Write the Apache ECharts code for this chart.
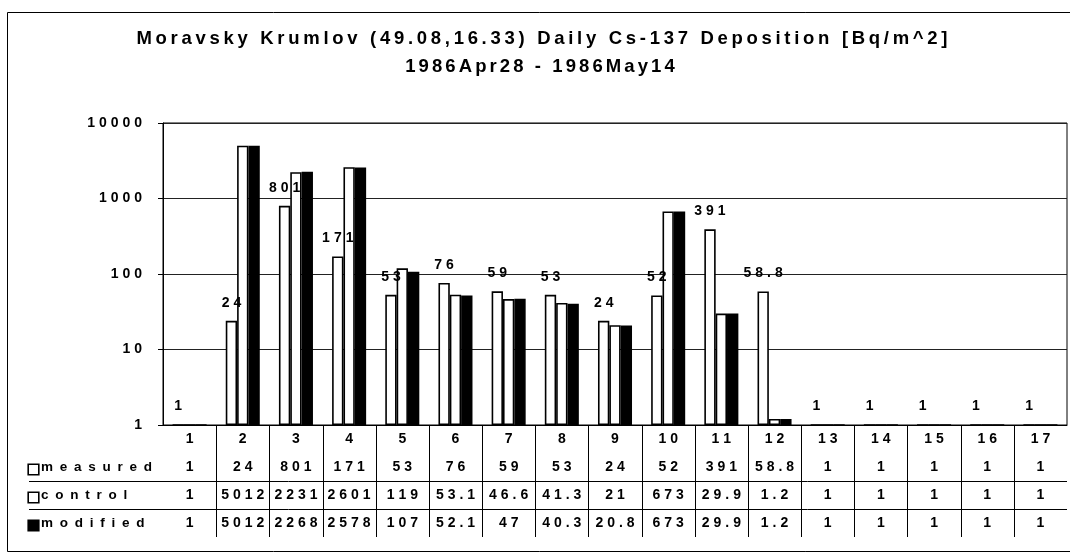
<!DOCTYPE html>
<html>
<head>
<meta charset="utf-8">
<script src="https://cdn.jsdelivr.net/npm/echarts@6/dist/echarts.min.js"></script>
<style>
  html, body { margin: 0; padding: 0; background: #fff; }
  #chart { width: 1070px; height: 554px; }
</style>
</head>
<body>
<div id="chart"></div>
<script>
// Days of the period (columns of the table)
const CATEGORIES = ['1','2','3','4','5','6','7','8','9','10','11','12','13','14','15','16','17'];

// Daily Cs-137 deposition, Bq/m^2
const MEASURED = [1, 24, 801, 171, 53, 76, 59, 53, 24, 52, 391, 58.8, 1, 1, 1, 1, 1];
const CONTROL  = [1, 5012, 2231, 2601, 119, 53.1, 46.6, 41.3, 21, 673, 29.9, 1.2, 1, 1, 1, 1, 1];
const MODIFIED = [1, 5012, 2268, 2578, 107, 52.1, 47, 40.3, 20.8, 673, 29.9, 1.2, 1, 1, 1, 1, 1];

const SERIES_NAMES = ['measured', 'control', 'modified'];
const Y_TICKS = [1, 10, 100, 1000, 10000];

const TITLE_LINE1 = 'Moravsky Krumlov (49.08,16.33) Daily Cs-137 Deposition [Bq/m^2]';
const TITLE_LINE2 = '1986Apr28 - 1986May14';

// Typography helpers: wide, letter-spaced bold face
const FONT = '"Liberation Sans", Arial, "DejaVu Sans", sans-serif';
const NUM_SEP = '\u2009\u200A';
const NAME_SEP = '\u2002';
const TITLE_SEP = '\u2009';
const SUBTITLE_SEP = '\u200A\u200A';
function spread(s, sep) { return Array.from(String(s)).join(sep); }

// Table below the plot: header row of days, then one row per series
const ROWS = ['', ...SERIES_NAMES];
const TABLE = [CATEGORIES, MEASURED, CONTROL, MODIFIED];
const cellData = [];
TABLE.forEach((row, r) => row.forEach((v, c) => cellData.push([c, r])));
const colLines = CATEGORIES.slice(1).map((_, i) => [i + 1, 0]);
const rowLines = [[0, 2], [0, 3]];

const chart = echarts.init(document.getElementById('chart'), null, { renderer: 'canvas' });

const barBase = {
  type: 'bar',
  xAxisIndex: 0,
  yAxisIndex: 0,
  barGap: '0%',
  barCategoryGap: '36%',
  itemStyle: { color: '#fff', borderColor: '#000', borderWidth: 1.6 }
};

const titleStyle = { fontFamily: FONT, fontSize: 18.5, fontWeight: 'bold', color: '#000' };

chart.setOption({
  animation: false,
  backgroundColor: '#fff',
  graphic: [{
    type: 'rect',
    shape: { x: 7.5, y: 12.5, width: 1100, height: 539 },
    style: { fill: 'none', stroke: '#000', lineWidth: 1 },
    silent: true
  }],
  title: [
    { text: spread(TITLE_LINE1, TITLE_SEP), left: 542, top: 29, padding: 0, textAlign: 'center', textStyle: titleStyle },
    { text: spread(TITLE_LINE2, SUBTITLE_SEP), left: 540, top: 57, padding: 0, textAlign: 'center', textStyle: titleStyle }
  ],
  grid: [
    { left: 163, right: 3, top: 123, height: 302, show: true, borderColor: '#000', borderWidth: 1 },
    { left: 163, right: 3, top: 425, height: 112 }
  ],
  xAxis: [
    {
      type: 'category', gridIndex: 0, data: CATEGORIES,
      axisLine: { lineStyle: { color: '#000', width: 1 } },
      axisTick: { show: false }, axisLabel: { show: false }
    },
    { type: 'category', gridIndex: 1, data: CATEGORIES, show: false }
  ],
  yAxis: [
    {
      type: 'log', logBase: 10, gridIndex: 0,
      min: Y_TICKS[0], max: Y_TICKS[Y_TICKS.length - 1],
      axisLine: { show: true, lineStyle: { color: '#000', width: 1 } },
      axisTick: { show: true, inside: false, length: 5, lineStyle: { color: '#000' } },
      splitLine: { show: true, lineStyle: { color: '#222', width: 1 } },
      minorTick: { show: false },
      axisLabel: {
        margin: 21, color: '#000', fontFamily: FONT, fontSize: 14, fontWeight: 'bold',
        formatter: v => spread(v, NUM_SEP)
      }
    },
    {
      type: 'category', gridIndex: 1, data: ROWS, inverse: true,
      axisLine: { show: false }, axisTick: { show: false }, splitLine: { show: false },
      axisLabel: {
        align: 'left', margin: 134, color: '#000',
        formatter: (v, i) => i === 0 ? '' : '{k' + i + '|}{t|' + spread(v, NAME_SEP) + '}',
        rich: {
          k1: { width: 9, height: 9, backgroundColor: '#fff', borderColor: '#000', borderWidth: 1.6, verticalAlign: 'bottom' },
          k2: { width: 9, height: 9, backgroundColor: '#fff', borderColor: '#000', borderWidth: 1.6, verticalAlign: 'bottom' },
          k3: { width: 9, height: 9, backgroundColor: '#000', borderColor: '#000', borderWidth: 1.6, verticalAlign: 'bottom' },
          t: { fontFamily: FONT, fontSize: 13.5, fontWeight: 'bold', color: '#000', padding: [0, 0, 0, 3] }
        }
      }
    }
  ],
  series: [
    Object.assign({}, barBase, {
      name: SERIES_NAMES[0], data: MEASURED,
      label: {
        show: true, position: 'top', distance: 11, color: '#000',
        fontFamily: FONT, fontSize: 14, fontWeight: 'bold',
        formatter: p => spread(p.value, NUM_SEP)
      }
    }),
    Object.assign({}, barBase, { name: SERIES_NAMES[1], data: CONTROL }),
    Object.assign({}, barBase, {
      name: SERIES_NAMES[2], data: MODIFIED,
      itemStyle: { color: '#000', borderColor: '#000', borderWidth: 1.6 }
    }),
    {
      // table cell texts
      type: 'custom', xAxisIndex: 1, yAxisIndex: 1, data: cellData, silent: true,
      renderItem: (params, api) => {
        const cell = cellData[params.dataIndex];
        const p = api.coord([cell[0], cell[1]]);
        return {
          type: 'text', x: p[0], y: p[1],
          style: {
            text: spread(TABLE[cell[1]][cell[0]], NUM_SEP),
            fontFamily: FONT, fontSize: 14, fontWeight: 'bold', fill: '#000',
            align: 'center', verticalAlign: 'middle'
          }
        };
      }
    },
    {
      // column separators of the table
      type: 'custom', xAxisIndex: 1, yAxisIndex: 1, data: colLines, silent: true, clip: false,
      renderItem: (params, api) => {
        const i = api.value(0);
        const a = api.coord([i - 1, 0]), b = api.coord([i, 0]);
        const x = Math.round((a[0] + b[0]) / 2) + 0.5;
        const cs = params.coordSys;
        return { type: 'line', shape: { x1: x, y1: cs.y, x2: x, y2: cs.y + cs.height }, style: { stroke: '#000', lineWidth: 1 } };
      }
    },
    {
      // row separators of the table, running under the row names too
      type: 'custom', xAxisIndex: 1, yAxisIndex: 1, data: rowLines, silent: true, clip: false,
      renderItem: (params, api) => {
        const r = api.value(1);
        const a = api.coord([0, r - 1]), b = api.coord([0, r]);
        const y = Math.round((a[1] + b[1]) / 2) + 0.5;
        const cs = params.coordSys;
        return { type: 'line', shape: { x1: 29, y1: y, x2: cs.x + cs.width, y2: y }, style: { stroke: '#000', lineWidth: 1 } };
      }
    }
  ]
});
</script>
</body>
</html>
